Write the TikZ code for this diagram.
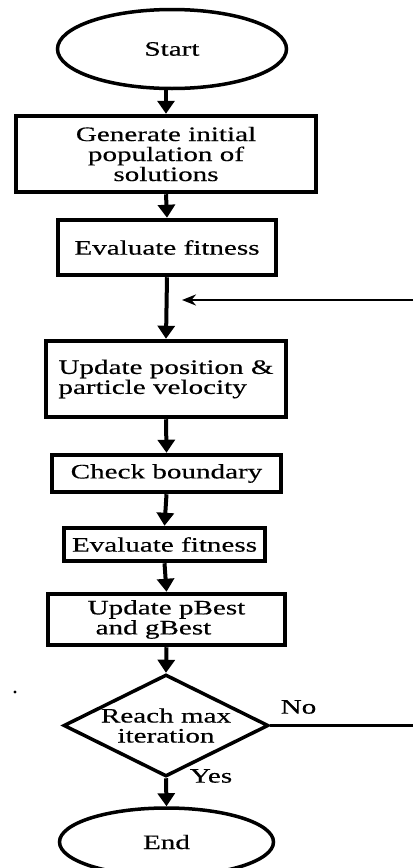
\documentclass[tikz,border=0pt]{standalone}
\usepackage{fontspec}
\setmainfont{Liberation Serif}[FakeStretch=1.42,FakeBold=0.4]
\usetikzlibrary{arrows.meta,shapes.geometric}
\newcommand{\chartfont}{\fontsize{20.5pt}{20pt}\selectfont}
\tikzset{
  procbox/.style={draw, line width=4.5pt, inner sep=0pt, align=center, font=\chartfont},
  termnode/.style={draw, ellipse, line width=3.5pt, inner sep=0pt, font=\chartfont},
  flowarrow/.style={line width=4pt, -{Triangle[width=17pt,length=13pt]}},
  loopline/.style={line width=2.4pt}
}
\begin{document}
\begin{tikzpicture}[x=1pt,y=1pt]
\clip (0,0) rectangle (413,-868);
% terminals and steps
\node[termnode, minimum width=229pt, minimum height=79pt] (start) at (172,-49) {Start};
\node[procbox, minimum width=300pt, minimum height=76pt] (init) at (166,-154) {Generate initial\\population of\\solutions};
\node[procbox, minimum width=218pt, minimum height=55pt] (evalA) at (167,-247.5) {Evaluate fitness};
\node[procbox, minimum width=240pt, minimum height=76pt, align=left] (update) at (166,-379) {Update position \&\\particle velocity};
\node[procbox, minimum width=229pt, minimum height=37pt] (check) at (166.5,-473.5) {Check boundary};
\node[procbox, minimum width=201pt, minimum height=33pt] (evalB) at (164.5,-544.5) {Evaluate fitness};
\node[procbox, minimum width=237pt, minimum height=51pt, align=left] (best) at (166.5,-619.5) {Update pBest\\\hspace*{8pt}and gBest};
\node[draw, diamond, line width=3.5pt, inner sep=0pt, minimum width=205pt, minimum height=102pt] (dec) at (166,-725.5) {};
\node[font=\chartfont, align=center] (decText) at (dec) {Reach max\\iteration};
\node[termnode, minimum width=214pt, minimum height=68pt] (end) at (166.5,-842) {End};
% vertical flow
\draw[flowarrow] (init.north |- start.south) -- (init.north);
\draw[flowarrow] (init.south) -- (evalA.north);
\draw[flowarrow] (evalA.south) -- (update.north);
\draw[flowarrow] (update.south) -- (check.north);
\draw[flowarrow] (check.south) -- (evalB.north);
\draw[flowarrow] (evalB.south) -- (best.north);
\draw[flowarrow] (best.south) -- (dec.north);
\draw[flowarrow] (dec.south) -- (end.north);
% loop back
\coordinate (noEnd) at (413,-725.5);
\coordinate (loopStart) at (413,-300);
\coordinate (loopEnd) at (182,-300);
\draw[loopline] (dec.east) -- (noEnd);
\draw[loopline, -{Stealth[width=11pt,length=14pt]}] (loopStart) -- (loopEnd);
\node[font=\chartfont] (noLabel) at (298.5,-707) {No};
\node[font=\chartfont] (yesLabel) at (211,-776) {Yes};
\fill (15,-692) circle (1.7pt);
\end{tikzpicture}
\end{document}
